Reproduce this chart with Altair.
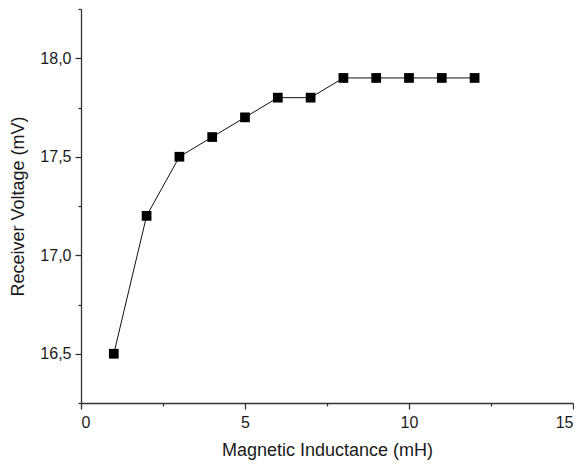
import altair as alt
import pandas as pd

inductance = [1, 2, 3, 4, 5, 6, 7, 8, 9, 10, 11, 12]
voltage = [16.5, 17.2, 17.5, 17.6, 17.7, 17.8, 17.8, 17.9, 17.9, 17.9, 17.9, 17.9]

x_ticks = [0, 2.5, 5, 7.5, 10, 12.5, 15]
y_ticks = [16.25, 16.5, 16.75, 17.0, 17.25, 17.5, 17.75, 18.0, 18.25]

df = pd.DataFrame({"x": inductance, "y": voltage})

x_enc = alt.X(
    "x:Q",
    title="Magnetic Inductance (mH)",
    scale=alt.Scale(domain=[0, 15], nice=False, zero=False),
    axis=alt.Axis(
        values=x_ticks,
        labelExpr="datum.value % 5 == 0 ? format(datum.value, 'd') : ''",
        tickSize={"condition": {"test": "datum.value % 5 == 0", "value": 6}, "value": 3},
        grid=False,
        labelPadding=5,
        titlePadding=11,
    ),
)
y_enc = alt.Y(
    "y:Q",
    title="Receiver Voltage (mV)",
    scale=alt.Scale(domain=[16.25, 18.25], nice=False, zero=False),
    axis=alt.Axis(
        values=y_ticks,
        labelExpr="datum.value % 0.5 == 0 ? replace(format(datum.value, '.1f'), '.', ',') : ''",
        tickSize={"condition": {"test": "datum.value % 0.5 == 0", "value": 6}, "value": 3},
        grid=False,
        labelPadding=4,
        titlePadding=12,
    ),
)

line = alt.Chart(df).mark_line(color="#111111", strokeWidth=1).encode(x=x_enc, y=y_enc)
pts = alt.Chart(df).mark_point(shape="square", filled=True, color="#000000", size=95, opacity=1).encode(
    x="x:Q", y="y:Q"
)

chart = (
    alt.layer(line, pts)
    .properties(
        width=492,
        height=394,
        background="white",
        autosize=alt.AutoSizeParams(type="none"),
        padding={"left": 73, "top": 1, "right": 1, "bottom": 58},
    )
    .configure_view(stroke=None)
    .configure_axis(
        domainColor="#333333",
        domainWidth=1.3,
        tickColor="#333333",
        tickWidth=1.3,
        labelFont="Liberation Sans",
        labelFontSize=16,
        labelColor="#1a1a1a",
        titleFont="Liberation Sans",
        titleFontSize=18,
        titleFontWeight="normal",
        titleColor="#1a1a1a",
    )
)

chart.save("out.html", embed_options={"renderer": "svg", "actions": False})
